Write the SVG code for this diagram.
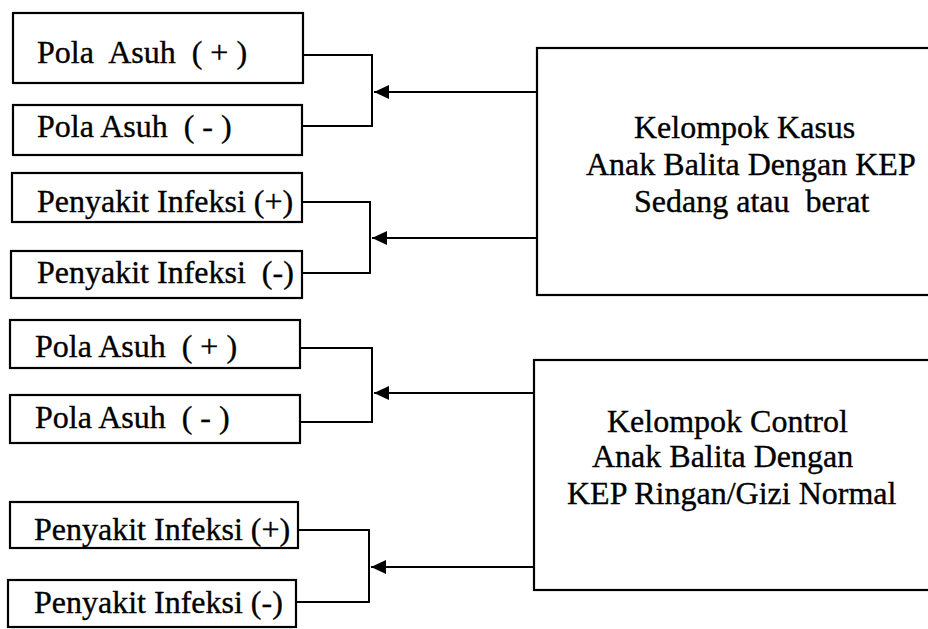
<svg xmlns="http://www.w3.org/2000/svg" width="928" height="629" viewBox="0 0 928 629">
<defs>
<style>
.box{fill:#fff;stroke:#000;stroke-width:2.2}
.t{font-family:"Liberation Serif","Times New Roman",serif;font-size:32px;fill:#000;stroke:#000;stroke-width:0.35;white-space:pre}
.c{fill:none;stroke:#000;stroke-width:2}
</style>
<marker id="ah" markerUnits="userSpaceOnUse" markerWidth="16" markerHeight="14" refX="15" refY="7" orient="auto">
<path d="M0,0 L15,7 L0,14 z" fill="#000"/>
</marker>
</defs>
<rect width="928" height="629" fill="#fff"/>
<g id="connectors">
<polyline class="c" points="303,55 372,55 372,126 302,126"/>
<line class="c" x1="537" y1="92" x2="374" y2="92" marker-end="url(#ah)"/>
<polyline class="c" points="302,202 370,202 370,273 302,273"/>
<line class="c" x1="537" y1="238" x2="372" y2="238" marker-end="url(#ah)"/>
<polyline class="c" points="300,348 372,348 372,422 300,422"/>
<line class="c" x1="534" y1="393" x2="374" y2="393" marker-end="url(#ah)"/>
<polyline class="c" points="298,530 369,530 369,602 296,602"/>
<line class="c" x1="534" y1="567" x2="371" y2="567" marker-end="url(#ah)"/>
</g>
<g id="n1"><rect class="box" x="13" y="13" width="290" height="70"/><text class="t" x="37" y="63">Pola  Asuh  ( + )</text></g>
<g id="n2"><rect class="box" x="13" y="105" width="289" height="50"/><text class="t" x="37" y="137">Pola Asuh  ( - )</text></g>
<g id="n3"><rect class="box" x="12" y="173" width="290" height="49"/><text class="t" x="37" y="212">Penyakit Infeksi (+)</text></g>
<g id="n4"><rect class="box" x="11" y="251" width="291" height="47"/><text class="t" x="37" y="283">Penyakit Infeksi  (-)</text></g>
<g id="n5"><rect class="box" x="10" y="320" width="290" height="48"/><text class="t" x="35" y="357">Pola Asuh  ( + )</text></g>
<g id="n6"><rect class="box" x="10" y="395" width="290" height="48"/><text class="t" x="35" y="428">Pola Asuh  ( - )</text></g>
<g id="n7"><rect class="box" x="10" y="502" width="288" height="46"/><text class="t" x="34" y="540">Penyakit Infeksi (+)</text></g>
<g id="n8"><rect class="box" x="8" y="580" width="288" height="47"/><text class="t" x="34" y="613">Penyakit Infeksi (-)</text></g>
<g id="kasus"><rect class="box" x="537" y="48" width="400" height="247"/>
<text class="t" x="634" y="138">Kelompok Kasus</text>
<text class="t" x="586" y="175">Anak Balita Dengan KEP</text>
<text class="t" x="634" y="212">Sedang atau  berat</text></g>
<g id="control"><rect class="box" x="534" y="360" width="400" height="230"/>
<text class="t" x="607" y="432">Kelompok Control</text>
<text class="t" x="592" y="467">Anak Balita Dengan</text>
<text class="t" x="567" y="504">KEP Ringan/Gizi Normal</text></g>
</svg>
